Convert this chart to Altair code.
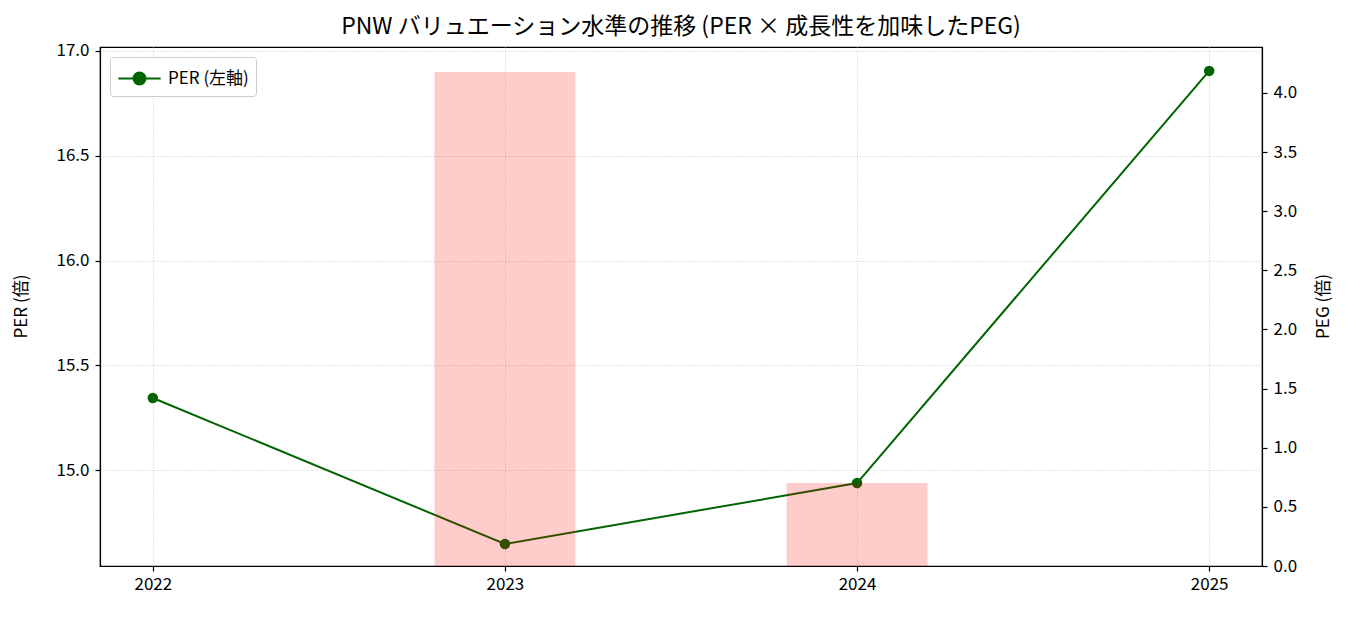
import altair as alt
import pandas as pd

years = [2022, 2023, 2024, 2025]
per = [15.344, 14.647, 14.938, 16.905]
peg_years = [2023, 2024]
peg = [4.178, 0.702]

FONT = "Noto Sans CJK JP"
LBL = 17

common = dict(labelFont=FONT, titleFont=FONT, labelFontSize=LBL, titleFontSize=LBL,
              labelColor="black", titleColor="black", titleFontWeight="normal",
              domainColor="black", tickColor="black", domainWidth=1.2, tickWidth=1.2, tickSize=5)

line_df = pd.DataFrame({"year": years, "per": per, "series": ["PER (左軸)"] * len(years)})
bar_df = pd.DataFrame({"year": peg_years, "peg": peg})
bar_df["x0"] = bar_df["year"] - 0.2
bar_df["x1"] = bar_df["year"] + 0.2

xscale = alt.Scale(domain=[2021.85, 2025.15], nice=False, zero=False)
xaxis = alt.Axis(values=years, format="d", title=None, grid=True, gridDash=[1, 2],
                 gridColor="#c8c8c8", labelPadding=5, **common)

base_line = alt.Chart(line_df).encode(
    x=alt.X("year:Q", scale=xscale, axis=xaxis),
    y=alt.Y("per:Q", scale=alt.Scale(domain=[14.542, 17.019], nice=False, zero=False),
            axis=alt.Axis(title="PER (倍)", values=[15.0, 15.5, 16.0, 16.5, 17.0], format=".1f",
                          grid=True, gridDash=[1, 2], gridColor="#c8c8c8", labelPadding=6,
                          titleX=-70, titleY=259, orient="left", **common)),
    color=alt.Color("series:N", scale=alt.Scale(range=["#006400"]),
                    legend=alt.Legend(title=None, orient="top-left", offset=10,
                                      symbolType="M-1.6,0 L1.6,0 M-0.45,0 A0.45,0.45 0 1,0 0.45,0 A0.45,0.45 0 1,0 -0.45,0",
                                      symbolSize=700, symbolStrokeWidth=2, symbolOffset=8,
                                      symbolFillColor="#006400", symbolStrokeColor="#006400",
                                      labelOffset=14,
                                      strokeColor="#cccccc", fillColor="white", cornerRadius=3,
                                      padding=7, labelFontSize=LBL, labelFont=FONT)),
)
line = base_line.mark_line(strokeWidth=2)
pts = base_line.mark_point(filled=True, size=110, opacity=1)

bars = alt.Chart(bar_df).mark_rect(color="red", opacity=0.2).encode(
    x=alt.X("x0:Q", scale=xscale, axis=xaxis),
    x2="x1:Q",
    y=alt.Y("peg:Q", scale=alt.Scale(domain=[0, 4.389], nice=False),
            axis=alt.Axis(title="PEG (倍)", orient="right", values=[0, 0.5, 1, 1.5, 2, 2.5, 3, 3.5, 4],
                          format=".1f", grid=False, titleAngle=270, labelPadding=6,
                          titleX=70, titleY=259, **common)),
    y2=alt.datum(0),
)

chart = alt.layer(line + pts, bars).resolve_scale(y="independent").properties(
    width=1162, height=519,
    title=alt.Title("PNW バリュエーション水準の推移 (PER × 成長性を加味したPEG)",
                    font=FONT, fontSize=23, fontWeight="normal", color="black", offset=3),
    autosize=alt.AutoSizeParams(type="none"),
    padding={"left": 100, "top": 47, "right": 89, "bottom": 51},
).configure(background="white").configure_view(stroke="black", strokeWidth=1.2)

chart.save("out.html", embed_options={"renderer": "svg", "actions": False})
